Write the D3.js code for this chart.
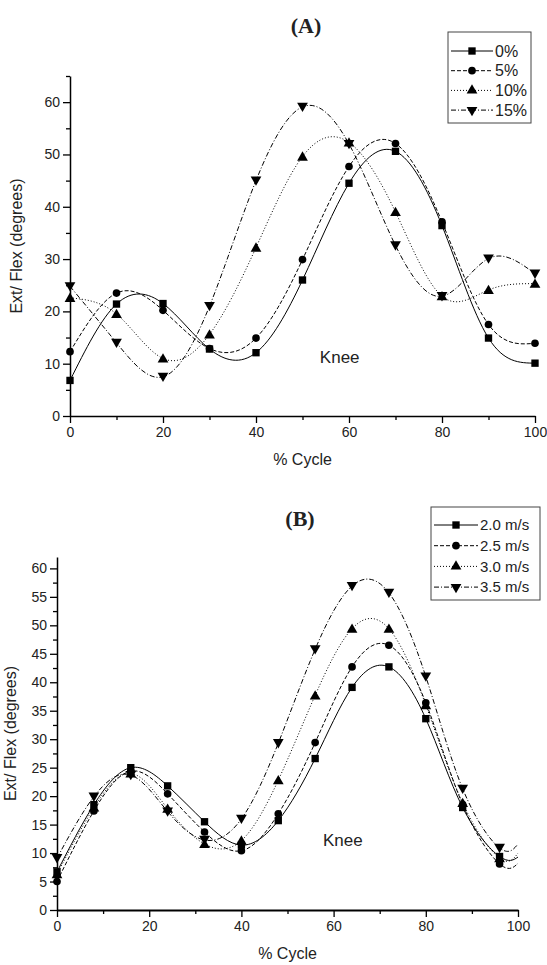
<!DOCTYPE html>
<html>
<head>
<meta charset="utf-8">
<script src="https://cdn.jsdelivr.net/npm/d3@7"></script>
<style>
  body { margin: 0; background: #fff; }
  svg { display: block; font-family: "Liberation Sans", Arial, sans-serif; }
  .axis path, .axis line { stroke: #000; }
  .axis text { font-size: 14px; fill: #222; font-family: "Liberation Sans", Arial, sans-serif; }
</style>
</head>
<body>
<div id="chart"></div>
<script>
// Panel A: knee angle vs % cycle for slope levels
let xA = [0, 10, 20, 30, 40, 50, 60, 70, 80, 90, 100];
let namesA = ['0%', '5%', '10%', '15%'];
let valsA0 = [6.8, 21.4, 21.5, 12.8, 12.1, 26.0, 44.5, 50.6, 36.4, 14.9, 10.1];
let valsA5 = [12.3, 23.5, 20.2, 12.9, 14.9, 29.9, 47.7, 52.1, 37.1, 17.5, 13.9];
let valsA10 = [22.6, 19.5, 11.0, 15.6, 32.2, 49.6, 52.3, 39.0, 22.9, 24.1, 25.3];
let valsA15 = [24.8, 14.0, 7.5, 21.0, 45.0, 59.1, 52.0, 32.6, 22.9, 30.1, 27.2];

// Panel B: knee angle vs % cycle for running speeds (last point at 100 has no marker)
let xB = [0, 8, 16, 24, 32, 40, 48, 56, 64, 72, 80, 88, 96, 100];
let namesB = ['2.0 m/s', '2.5 m/s', '3.0 m/s', '3.5 m/s'];
let valsB20 = [6.7, 18.5, 25.0, 21.8, 15.5, 11.4, 15.7, 26.6, 39.1, 42.7, 33.6, 18.0, 9.4, 9.3];
let valsB25 = [5.0, 17.4, 24.4, 20.4, 13.7, 10.4, 16.9, 29.4, 42.7, 46.5, 36.4, 18.5, 8.1, 8.2];
let valsB30 = [6.3, 18.0, 24.0, 17.8, 11.6, 12.2, 22.8, 37.7, 49.4, 49.4, 36.0, 18.8, 9.1, 10.0];
let valsB35 = [9.1, 19.9, 23.7, 17.3, 12.3, 16.0, 29.3, 45.8, 56.9, 55.7, 41.0, 21.3, 10.9, 11.6];

let xTicks = [0, 20, 40, 60, 80, 100];
let yTicksA = [0, 10, 20, 30, 40, 50, 60];
let yTicksB = [0, 5, 10, 15, 20, 25, 30, 35, 40, 45, 50, 55, 60];

// styles per series (solid, dashed, dotted, dash-dot) and marker shapes
let dashes = [null, '4,2', '1,2', '5,2,1,2'];
let shapes = ['square', 'circle', 'up', 'down'];

let svg = d3.select('#chart').append('svg')
    .attr('width', 547)
    .attr('height', 965);

function symbolFor(shape) {
    if (shape === 'square') return d3.symbol(d3.symbolSquare, 54)();
    if (shape === 'circle') return d3.symbol(d3.symbolCircle, 46)();
    return d3.symbol(d3.symbolTriangle, 50)();
}

function drawPanel(opt) {
    let g = svg.append('g');
    let scX = d3.scaleLinear().domain([0, 100]).range([opt.left, opt.right]);
    let scY = d3.scaleLinear().domain([0, opt.yMax]).range([opt.bottom, opt.top]);

    // minor ticks first (shorter), then major axes
    g.append('g')
        .attr('class', 'axis')
        .attr('transform', `translate(0,${opt.bottom})`)
        .call(d3.axisBottom(scX).tickValues(d3.range(10, 100, 20)).tickSize(4).tickFormat(''))
        .call(a => a.select('.domain').remove());
    g.append('g')
        .attr('class', 'axis')
        .attr('transform', `translate(${opt.left},0)`)
        .call(d3.axisLeft(scY).tickValues(opt.yMinor).tickSize(4).tickFormat(''))
        .call(a => a.select('.domain').remove());

    let xAx = g.append('g')
        .attr('class', 'axis')
        .attr('transform', `translate(0,${opt.bottom})`)
        .call(d3.axisBottom(scX).tickValues(xTicks).tickSize(7).tickSizeOuter(0).tickPadding(4));
    xAx.select('.domain').attr('stroke-width', opt.xAxisWidth);
    let yAx = g.append('g')
        .attr('class', 'axis')
        .attr('transform', `translate(${opt.left},0)`)
        .call(d3.axisLeft(scY).tickValues(opt.yTicks).tickSize(7).tickSizeOuter(0).tickPadding(3));
    yAx.select('.domain').attr('stroke-width', 1.5);
    g.selectAll('.axis line').attr('stroke-width', 1.3);

    // panel title
    g.append('text')
        .attr('x', opt.titleX)
        .attr('y', opt.titleY)
        .attr('text-anchor', 'middle')
        .style('font-family', '"Liberation Serif", "Times New Roman", serif')
        .style('font-weight', 'bold')
        .style('font-size', '22px')
        .attr('fill', '#222')
        .text(opt.title);

    // axis titles
    g.append('text')
        .attr('x', (opt.left + opt.right) / 2)
        .attr('y', opt.bottom + 49)
        .attr('text-anchor', 'middle')
        .style('font-size', '16px')
        .attr('fill', '#222')
        .text('% Cycle');
    g.append('text')
        .attr('transform', 'rotate(-90)')
        .attr('x', -(opt.top + opt.bottom) / 2)
        .attr('y', opt.yTitleX)
        .attr('text-anchor', 'middle')
        .style('font-size', '16px')
        .attr('fill', '#222')
        .text('Ext/ Flex (degrees)');

    // Knee annotation
    g.append('text')
        .attr('x', scX(opt.knee[0]))
        .attr('y', scY(opt.knee[1]))
        .attr('text-anchor', 'middle')
        .attr('dy', '0.35em')
        .style('font-size', '17px')
        .attr('fill', '#222')
        .text('Knee');

    let line = d3.line()
        .curve(d3.curveNatural)
        .x(d => scX(d[0]))
        .y(d => scY(d[1]));

    opt.series.forEach((vals, i) => {
        let pts = opt.xs.map((x, j) => [x, vals[j]]);
        g.append('path')
            .attr('d', line(pts))
            .attr('fill', 'none')
            .attr('stroke', '#000')
            .attr('stroke-width', 1)
            .attr('stroke-dasharray', dashes[i]);
        let marked = pts.slice(0, opt.nMarked);
        g.selectAll(null)
            .data(marked)
            .enter()
            .append('path')
            .attr('d', symbolFor(shapes[i]))
            .attr('fill', '#000')
            .attr('transform', d => `translate(${scX(d[0])},${scY(d[1]) + (shapes[i] === 'up' ? 1 : shapes[i] === 'down' ? -1 : 0)})` + (shapes[i] === 'down' ? ' rotate(180)' : ''));
    });

    // legend
    let lg = g.append('g');
    lg.append('rect')
        .attr('x', opt.leg.x)
        .attr('y', opt.leg.y)
        .attr('width', opt.leg.w)
        .attr('height', opt.leg.h)
        .attr('fill', '#fff')
        .attr('stroke', '#444')
        .attr('stroke-width', 1);
    opt.names.forEach((name, i) => {
        let cy = opt.leg.y + opt.leg.first + i * opt.leg.step;
        lg.append('line')
            .attr('x1', opt.leg.x + 3)
            .attr('x2', opt.leg.x + 3 + opt.leg.lineW)
            .attr('y1', cy)
            .attr('y2', cy)
            .attr('stroke', '#000')
            .attr('stroke-width', 1)
            .attr('stroke-dasharray', dashes[i]);
        lg.append('path')
            .attr('d', symbolFor(shapes[i]))
            .attr('fill', '#000')
            .attr('transform', `translate(${opt.leg.x + 3 + opt.leg.lineW / 2},${cy})` + (shapes[i] === 'down' ? ' rotate(180)' : ''));
        lg.append('text')
            .attr('x', opt.leg.x + opt.leg.textX)
            .attr('y', cy)
            .attr('dy', '0.35em')
            .style('font-size', opt.leg.font)
            .attr('fill', '#222')
            .text(name);
    });
}

drawPanel({
    left: 70, right: 535, top: 76, bottom: 416, yMax: 65,
    yTicks: yTicksA, yMinor: d3.range(5, 70, 10), xAxisWidth: 1.5,
    title: '(A)', titleX: 306, titleY: 33,
    yTitleX: 22, knee: [58, 11.2],
    xs: xA, nMarked: xA.length,
    series: [valsA0, valsA5, valsA10, valsA15],
    names: namesA,
    leg: {x: 448, y: 32, w: 83, h: 91, first: 19, step: 19.7, lineW: 42, textX: 47, font: '16px'}
});

drawPanel({
    left: 57, right: 518, top: 557, bottom: 910, yMax: 62,
    yTicks: yTicksB, yMinor: d3.range(2.5, 62, 5), xAxisWidth: 2,
    title: '(B)', titleX: 300, titleY: 526,
    yTitleX: 16, knee: [62, 12.3],
    xs: xB, nMarked: xB.length - 1,
    series: [valsB20, valsB25, valsB30, valsB35],
    names: namesB,
    leg: {x: 431, y: 507, w: 109, h: 93, first: 18, step: 20.7, lineW: 44, textX: 49, font: '15px'}
});
</script>
</body>
</html>
